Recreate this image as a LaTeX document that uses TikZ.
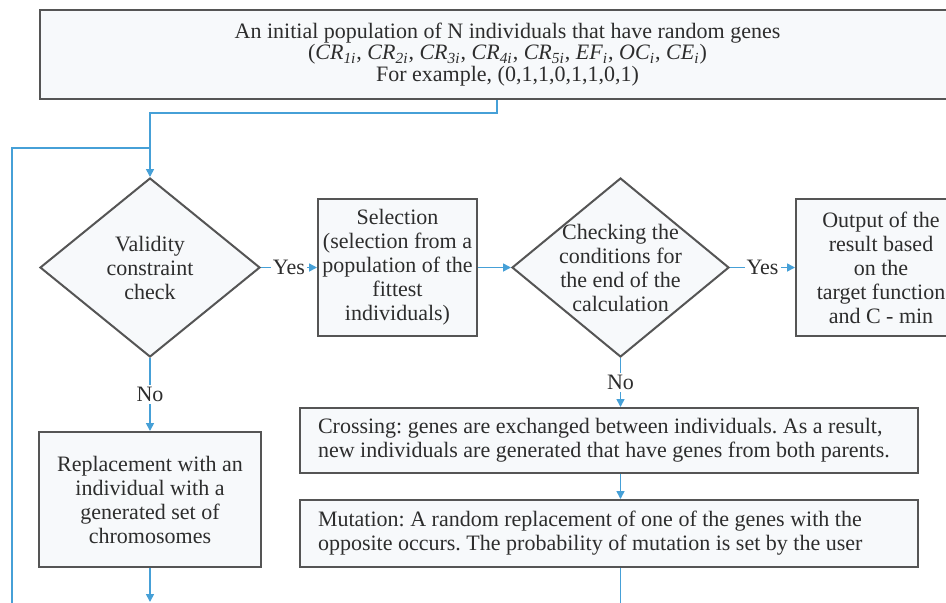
\documentclass[tikz,border=0pt]{standalone}
\usepackage{fontspec}
\setmainfont{Liberation Serif}
\usetikzlibrary{positioning}
\usetikzlibrary{shapes.geometric,arrows.meta}
\definecolor{flowblue}{RGB}{70,160,215}
\definecolor{boxgray}{RGB}{85,85,85}
\definecolor{txtgray}{RGB}{45,45,45}
\definecolor{boxfill}{RGB}{247,249,251}
\newcommand{\gn}[2]{\textit{#1}\textsubscript{\textit{#2}}}

\begin{document}
\begin{tikzpicture}[x=0.5pt, y=-0.5pt,
    every node/.style={font=\fontsize{11}{12}\selectfont\frenchspacing, text=txtgray},
    box/.style={draw=boxgray, line width=1pt, fill=boxfill, align=center, inner sep=2pt},
    widebox/.style={box, text width=291pt, inner xsep=9pt, align=flush left},
    decision/.style={draw=boxgray, line width=1pt, fill=boxfill, shape=diamond, align=center, aspect=1.23, minimum width=110pt, minimum height=89.5pt, inner sep=-14pt},
    line/.style={draw=flowblue, line width=0.8pt},
    arrow/.style={line, -{Triangle[length=4pt, width=4pt]}},
    lbl/.style={fill=white, inner sep=1pt}]
    \useasboundingbox (0,0) rectangle (946,602);
    \clip (0,0) rectangle (946,602);

    \node [box, minimum width=467.5pt, minimum height=44.5pt, font=\fontsize{11}{10.75}\selectfont] (init) at (507.5,54.5) {An initial population of N individuals that have random genes \\ (\gn{CR}{1i}, \gn{CR}{2i}, \gn{CR}{3i}, \gn{CR}{4i}, \gn{CR}{5i}, \gn{EF}{i}, \gn{OC}{i}, \gn{CE}{i}) \\ For example, (0,1,1,0,1,1,0,1)};
    \node [decision] (valid) at (150,267.5) {Validity \\ constraint \\ check};
    \node [box, minimum width=79.5pt, minimum height=68.5pt] (select) [right=28pt of valid] {Selection \\ (selection from a \\ population of the \\ fittest \\ individuals)};
    \node [decision, minimum width=108.5pt] (check) [right=16.5pt of select] {Checking the \\ conditions for \\ the end of the \\ calculation};
    \node [box, minimum width=85pt, minimum height=68.5pt] (output) [right=32.5pt of check] {Output of the \\ result based \\ on the \\ target function \\ and C - min};
    \node [widebox, minimum height=32.5pt] (cross) at (609,440.5) {Crossing: genes are exchanged between individuals. As a result, \\ new individuals are generated that have genes from both parents.};
    \node [widebox, minimum height=33.5pt] (mutate) [below=12.5pt of cross] {Mutation: A random replacement of one of the genes with the \\ opposite occurs. The probability of mutation is set by the user};
    \node [box, minimum width=111pt, minimum height=67.5pt] (replace) [below=36.5pt of valid] {Replacement with an \\ individual with a \\ generated set of \\ chromosomes};
    \coordinate (join) at (150,148);
    \coordinate (loopend) at (12,640);
    \coordinate (outend) at (150,602);

    \draw [arrow] ([xshift=-5.25pt]init.south) -- ++(0,13) -| (valid.north);
    \draw [line] (loopend) |- (join);
    \draw [arrow] (valid) -- node [lbl] {Yes} (select);
    \draw [arrow] (select) -- (check);
    \draw [arrow] (check) -- node [lbl] {Yes} (output);
    \draw [arrow] (check.south) -- node [lbl] {No} (check.south |- cross.north);
    \draw [arrow] (valid.south) -- node [lbl] {No} (valid.south |- replace.north);
    \draw [arrow] (check.south |- cross.south) -- (check.south |- mutate.north);
    \draw [line] (check.south |- mutate.south) -- ++(0,60);
    \draw [arrow] (valid.south |- replace.south) -- (outend);
\end{tikzpicture}
\end{document}
